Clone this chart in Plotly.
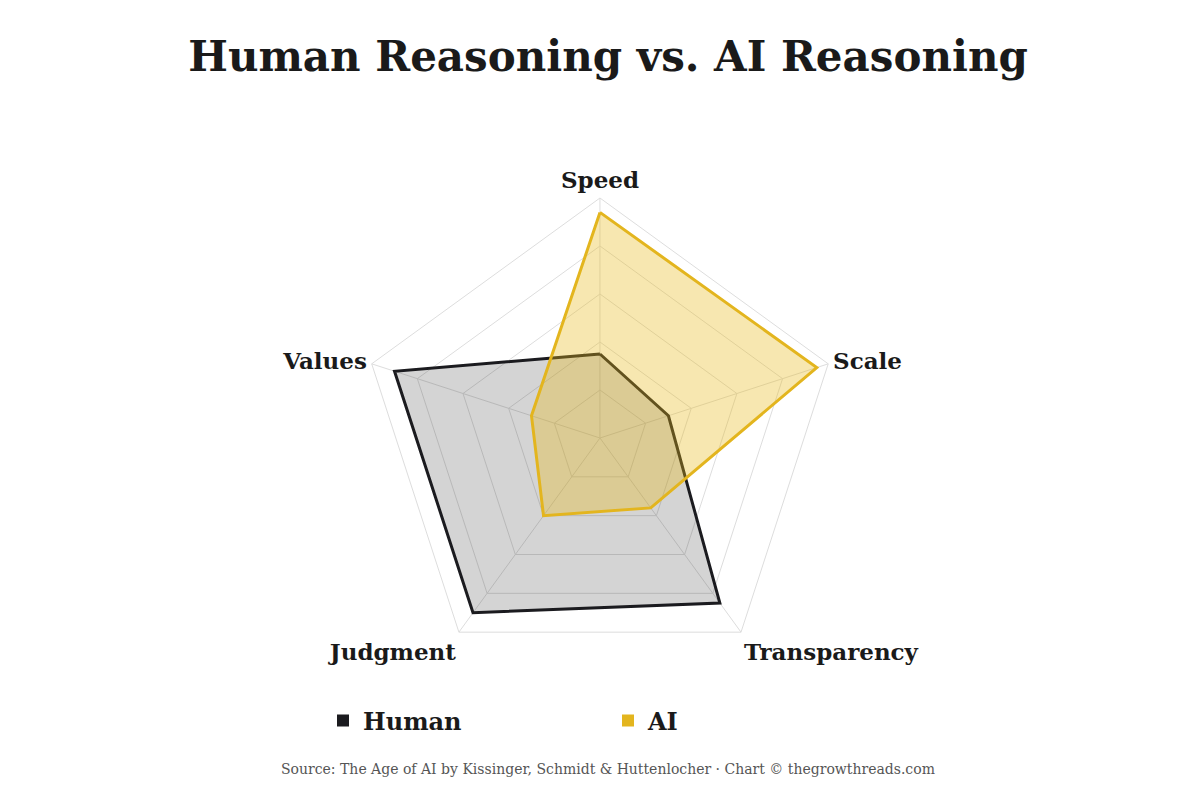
import plotly.graph_objects as go

categories = ["Speed", "Scale", "Transparency", "Judgment", "Values"]
human = [3.5, 3, 8.5, 9, 9]
ai = [9.4, 9.5, 3.6, 4, 3]

SERIF = "Georgia, 'DejaVu Serif', 'Liberation Serif', serif"
fig = go.Figure()
fig.add_trace(go.Scatterpolar(
    r=human + human[:1], theta=categories + categories[:1], name="Human",
    mode="lines", fill="toself", fillcolor="rgba(40,40,40,0.2)",
    line=dict(color="#1b1b1f", width=3), showlegend=False))
fig.add_trace(go.Scatterpolar(
    r=ai + ai[:1], theta=categories + categories[:1], name="AI",
    mode="lines", fill="toself", fillcolor="rgba(232,186,30,0.35)",
    line=dict(color="#e3b51e", width=3), showlegend=False))
for name, col in [("Human", "#1b1b1f"), ("AI", "#e3b51e")]:
    fig.add_trace(go.Scatterpolar(r=[None], theta=[categories[0]], name=name, mode="markers",
                                  marker=dict(symbol="square", size=22, color=col)))

fig.update_layout(
    width=1200, height=800, margin=dict(l=0, r=0, t=0, b=0),
    paper_bgcolor="white", plot_bgcolor="white",
    font=dict(family=SERIF, color="#1a1a1a"),
    title=dict(text="<b>Human Reasoning vs. AI Reasoning</b>", x=0.5, y=0.94,
               xanchor="center", yanchor="middle", font=dict(size=42, family=SERIF, color="#1a1a1a")),
    polar=dict(
        domain=dict(x=[0.2933, 0.6933], y=[0.1625, 0.7625]),
        bgcolor="white", gridshape="linear",
        radialaxis=dict(range=[0, 10], tickvals=[2, 4, 6, 8, 10], showticklabels=False,
                        ticks="", showline=False, gridcolor="#dddddd", gridwidth=1),
        angularaxis=dict(rotation=90, direction="clockwise", gridcolor="#dddddd",
                         linecolor="#dddddd", ticks="", ticklen=12,
                         tickfont=dict(size=23, family=SERIF, color="#1a1a1a")),
    ),
    legend=dict(orientation="h", x=0.5, xanchor="center", y=0.109, yanchor="middle",
                font=dict(size=24, family=SERIF, color="#1a1a1a"), itemwidth=30,
                entrywidth=240, entrywidthmode="pixels", itemsizing="constant"),
    annotations=[dict(text="Source: The Age of AI by Kissinger, Schmidt &amp; Huttenlocher · Chart © thegrowthreads.com",
                      x=0.5, y=1 - 771 / 800, xref="paper", yref="paper", showarrow=False,
                      font=dict(size=14, family=SERIF, color="#555555"))],
)
fig.update_polars(angularaxis_tickfont_weight="bold")
fig.update_layout(legend_font_weight="bold")
fig.write_html("out.html")
